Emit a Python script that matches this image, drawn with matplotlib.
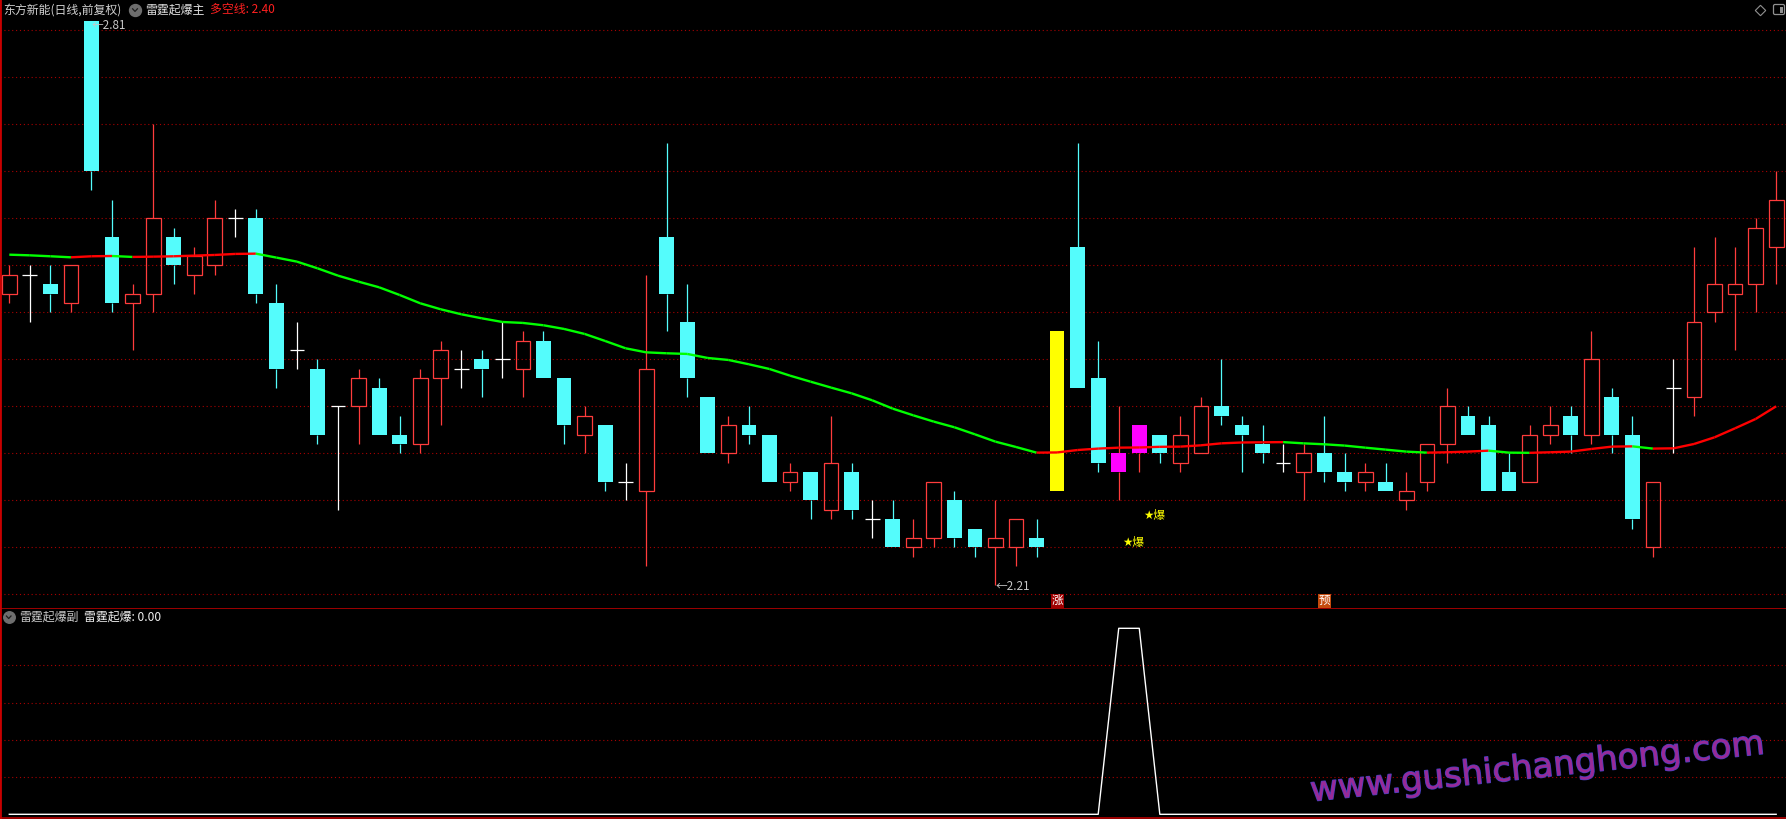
import numpy as np
import matplotlib
matplotlib.use('Agg')
import matplotlib.pyplot as plt
import matplotlib.patheffects as pe
from matplotlib.collections import LineCollection
from matplotlib.patches import FancyBboxPatch

plt.rcParams['font.family'] = ['Noto Sans CJK SC', 'DejaVu Sans']

# 日线数据
opens = [2.52, 2.54, 2.53, 2.51, 2.81, 2.58, 2.51, 2.52, 2.58, 2.54,
         2.55, 2.60, 2.60, 2.51, 2.46, 2.44, 2.40, 2.40, 2.42, 2.37,
         2.36, 2.43, 2.44, 2.45, 2.45, 2.44, 2.47, 2.43, 2.37, 2.38,
         2.32, 2.31, 2.58, 2.49, 2.41, 2.35, 2.38, 2.37, 2.32, 2.33,
         2.29, 2.33, 2.28, 2.28, 2.25, 2.26, 2.30, 2.27, 2.25, 2.25,
         2.26, 2.31, 2.57, 2.43, 2.35, 2.35, 2.37, 2.34, 2.35, 2.40,
         2.38, 2.36, 2.34, 2.33, 2.35, 2.33, 2.32, 2.32, 2.30, 2.32,
         2.36, 2.39, 2.38, 2.33, 2.32, 2.37, 2.39, 2.37, 2.41, 2.37,
         2.25, 2.42, 2.41, 2.50, 2.52, 2.53, 2.57]
highs = [2.55, 2.55, 2.55, 2.55, 2.81, 2.62, 2.53, 2.70, 2.59, 2.57,
         2.62, 2.61, 2.61, 2.53, 2.49, 2.45, 2.40, 2.44, 2.43, 2.39,
         2.44, 2.47, 2.46, 2.46, 2.49, 2.48, 2.48, 2.43, 2.40, 2.38,
         2.34, 2.54, 2.68, 2.53, 2.41, 2.39, 2.40, 2.37, 2.34, 2.33,
         2.39, 2.34, 2.30, 2.30, 2.28, 2.32, 2.31, 2.27, 2.30, 2.28,
         2.28, 2.48, 2.68, 2.47, 2.40, 2.38, 2.37, 2.39, 2.41, 2.45,
         2.39, 2.38, 2.36, 2.36, 2.39, 2.35, 2.34, 2.34, 2.33, 2.36,
         2.42, 2.40, 2.39, 2.35, 2.38, 2.40, 2.40, 2.48, 2.42, 2.39,
         2.32, 2.45, 2.57, 2.58, 2.57, 2.60, 2.65]
lows = [2.51, 2.49, 2.50, 2.50, 2.63, 2.50, 2.46, 2.50, 2.53, 2.52,
        2.54, 2.58, 2.51, 2.42, 2.44, 2.36, 2.29, 2.36, 2.37, 2.35,
        2.35, 2.38, 2.42, 2.41, 2.43, 2.41, 2.43, 2.36, 2.35, 2.31,
        2.30, 2.23, 2.48, 2.41, 2.35, 2.34, 2.36, 2.32, 2.31, 2.28,
        2.28, 2.28, 2.26, 2.25, 2.24, 2.25, 2.25, 2.24, 2.21, 2.23,
        2.24, 2.31, 2.42, 2.33, 2.30, 2.33, 2.34, 2.33, 2.35, 2.38,
        2.33, 2.34, 2.33, 2.30, 2.32, 2.31, 2.31, 2.31, 2.29, 2.31,
        2.34, 2.37, 2.31, 2.31, 2.32, 2.36, 2.35, 2.36, 2.35, 2.27,
        2.24, 2.35, 2.39, 2.49, 2.46, 2.50, 2.53]
closes = [2.54, 2.54, 2.52, 2.55, 2.65, 2.51, 2.52, 2.60, 2.55, 2.56,
          2.60, 2.60, 2.52, 2.44, 2.46, 2.37, 2.40, 2.43, 2.37, 2.36,
          2.43, 2.46, 2.44, 2.44, 2.45, 2.47, 2.43, 2.38, 2.39, 2.32,
          2.32, 2.44, 2.52, 2.43, 2.35, 2.38, 2.37, 2.32, 2.33, 2.30,
          2.34, 2.29, 2.28, 2.25, 2.26, 2.32, 2.26, 2.25, 2.26, 2.28,
          2.25, 2.48, 2.42, 2.34, 2.33, 2.38, 2.35, 2.37, 2.40, 2.39,
          2.37, 2.35, 2.34, 2.35, 2.33, 2.32, 2.33, 2.31, 2.31, 2.36,
          2.40, 2.37, 2.31, 2.31, 2.37, 2.38, 2.37, 2.45, 2.37, 2.28,
          2.32, 2.42, 2.49, 2.53, 2.53, 2.59, 2.62]

# 多空线
duokong = [2.5613, 2.5606, 2.5596, 2.5585, 2.5596, 2.5599, 2.5589, 2.5592, 2.5596, 2.5603,
           2.5610, 2.5621, 2.5624, 2.5582, 2.5539, 2.5468, 2.5390, 2.5326, 2.5266, 2.5184,
           2.5096, 2.5032, 2.4979, 2.4936, 2.4897, 2.4887, 2.4862, 2.4823, 2.4770, 2.4695,
           2.4617, 2.4574, 2.4564, 2.4557, 2.4514, 2.4493, 2.4447, 2.4397, 2.4326, 2.4262,
           2.4199, 2.4138, 2.4064, 2.3975, 2.3904, 2.3837, 2.3777, 2.3702, 2.3624, 2.3567,
           2.3507, 2.3509, 2.3535, 2.3550, 2.3560, 2.3562, 2.3569, 2.3571, 2.3585, 2.3606,
           2.3615, 2.3617, 2.3619, 2.3606, 2.3596, 2.3582, 2.3560, 2.3539, 2.3518, 2.3507,
           2.3511, 2.3518, 2.3528, 2.3507, 2.3505, 2.3511, 2.3518, 2.3546, 2.3571, 2.3574,
           2.3550, 2.3553, 2.3599, 2.3670, 2.3766, 2.3865, 2.4000]

# 副图 雷霆起爆
burst = [0] * 54 + [1, 1] + [0] * 31

yellow_bars = [51]
magenta_bars = [54, 55]
bao_bars = [54, 55]
bao_prices = [2.255, 2.284]
tag_texts = ['涨', '预']
tag_bars = [51, 64]
tag_colors = ['#A00000', '#C44A0C']
tag_price = 2.193

UP = '#FF3C3C'
DOWN = '#54FCFC'
GRID = '#A80000'
BORDER = '#C80000'

W, H = 1786, 819
fig = plt.figure(figsize=(W / 100, H / 100), dpi=100, facecolor='black')

ax = fig.add_axes([0, (H - 608.7) / H, 1, 608.7 / H], facecolor='black')
ax2 = fig.add_axes([0, 0.7 / H, 1, 209.6 / H], facecolor='black')

x = np.arange(len(opens))
o, h, l, c = map(np.array, (opens, highs, lows, closes))
top = np.maximum(o, c)
bot = np.minimum(o, c)

colors = np.where(c > o, UP, np.where(c < o, DOWN, '#FFFFFF')).astype(object)
wick_colors = colors.copy()
special = np.zeros(len(x), bool)
for i in yellow_bars:
    colors[i] = '#FFFF00'
    special[i] = True
for i in magenta_bars:
    colors[i] = '#FF00FF'
    wick_colors[i] = UP
    special[i] = True

up = (c > o) & ~special
dn = (c < o) & ~special
dj = (c == o) & ~special
bw = 0.72

# 影线
ax.vlines(x, l, bot, colors=list(wick_colors), linewidth=0.9, zorder=2)
ax.vlines(x, top, h, colors=list(wick_colors), linewidth=0.9, zorder=2)
# 实体
ax.bar(x[up], (top - bot)[up], bottom=bot[up], width=bw,
       facecolor='none', edgecolor=UP, linewidth=0.9, zorder=3)
ax.bar(x[dn], (top - bot)[dn], bottom=bot[dn], width=bw,
       color=DOWN, linewidth=0, zorder=3)
ax.bar(x[special], (top - bot)[special], bottom=bot[special], width=bw,
       color=list(colors[special]), linewidth=0, zorder=3)
ax.hlines(c[dj], x[dj] - bw / 2, x[dj] + bw / 2, colors='#FFFFFF', linewidth=0.9, zorder=3)

# 多空线 红升绿降
ma = np.array(duokong)
pts = np.column_stack([x, ma])
segs = np.stack([pts[:-1], pts[1:]], axis=1)
seg_cols = np.where(np.diff(ma) >= 0, '#FF0000', '#00FF00')
ax.add_collection(LineCollection(segs, colors=seg_cols, linewidths=1.7, zorder=5))

# 最高/最低标注
ih = int(np.argmax(h))
il = int(np.argmin(l))
ax.annotate('←' + f'{h[ih]:.2f}', xy=(ih, h[ih]), xytext=(0, -3), textcoords='offset points',
            ha='left', va='center', color='#C8C8C8', fontsize=8.4, zorder=6)
ax.annotate('←' + f'{l[il]:.2f}', xy=(il, l[il]), xytext=(0, -1), textcoords='offset points',
            ha='left', va='center', color='#C8C8C8', fontsize=8.4, zorder=6)

# ★爆
for i, p in zip(bao_bars, bao_prices):
    ax.annotate('★爆', xy=(i, p), xytext=(2.6, 0), textcoords='offset points',
                ha='left', va='center', color='#FFFF00', fontsize=8.4,
                family=['DejaVu Sans', 'Noto Sans CJK SC'], zorder=6)

# 涨 / 预
for t, i, col in zip(tag_texts, tag_bars, tag_colors):
    ax.text(i, tag_price, t, ha='center', va='center', color='white', fontsize=8.4, zorder=6,
            bbox=dict(boxstyle='square,pad=0.06', fc=col, ec='none'))

xlim = (-9.3 / 20.545, (W - 9.3) / 20.545)
ax.set_xlim(*xlim)
ax.set_ylim(2.20 - 14.4 / 940, 2.20 + 594.3 / 940)
ax.set_yticks(np.arange(2.20, 2.801, 0.05))

ax2.plot(x, burst, color='white', linewidth=1.0)
ax2.set_xlim(*xlim)
ax2.set_ylim(-4 / 186, 205.6 / 186)
ax2.set_yticks([0.2, 0.4, 0.6, 0.8])

for a in (ax, ax2):
    a.grid(axis='y', color=GRID, linestyle=(0, (1, 2.5)), linewidth=0.8)
    a.set_axisbelow(True)
    a.set_xticks([])
    a.tick_params(left=False, bottom=False, labelleft=False, labelbottom=False)
    for s in ('top', 'right'):
        a.spines[s].set_visible(False)
    a.spines['left'].set_color(BORDER)
    a.spines['left'].set_linewidth(2.0)
    a.spines['bottom'].set_color(BORDER)
    a.spines['bottom'].set_linewidth(1.1)

# 标题栏 / 水印
ov = fig.add_axes([0, 0, 1, 1])
ov.set_xlim(0, W)
ov.set_ylim(H, 0)
ov.axis('off')
ov.patch.set_alpha(0)

ov.text(3, 10, '东方新能(日线,前复权)', color='#D0D0D0', fontsize=8.6, ha='left', va='center')
ov.plot(135, 10, 'o', ms=8.6, color='#6E6E6E')
ov.plot([132.6, 135, 137.4], [8.8, 11.4, 8.8], color='#1E1E1E', lw=0.9)
ov.text(145, 10, '雷霆起爆主', color='#E0E0E0', fontsize=8.6, ha='left', va='center')
ov.text(210, 10, '多空线: 2.40', color='#FF2020', fontsize=8.6, ha='left', va='center')

ov.plot(1760, 9.5, marker=(4, 0, 0), ms=7.5, mfc='none', mec='#909090', mew=0.8)
ov.add_patch(FancyBboxPatch((1773.5, 4.5), 11, 10, boxstyle='round,pad=0,rounding_size=1.5',
                            fc='none', ec='#909090', lw=0.9))
ov.add_patch(FancyBboxPatch((1779.5, 6.5), 3.5, 6, boxstyle='square,pad=0',
                            fc='#909090', ec='none'))

ov.plot(8.7, 617, 'o', ms=8.3, color='#6E6E6E')
ov.plot([6.4, 8.7, 11.0], [616, 618.5, 616], color='#1E1E1E', lw=0.9)
ov.text(19, 617, '雷霆起爆副', color='#C8C8C8', fontsize=8.6, ha='left', va='center')
ov.text(84, 617, '雷霆起爆: 0.00', color='#F0F0F0', fontsize=8.6, ha='left', va='center')

ov.text(1537, 768, 'www.gushichanghong.com', color='#982A98', fontsize=24.5,
        family='DejaVu Sans', ha='center', va='center', rotation=6, rotation_mode='anchor',
        path_effects=[pe.withStroke(linewidth=1.0, foreground='#4040C0')])

fig.savefig('out.png', dpi=100, facecolor='black')
